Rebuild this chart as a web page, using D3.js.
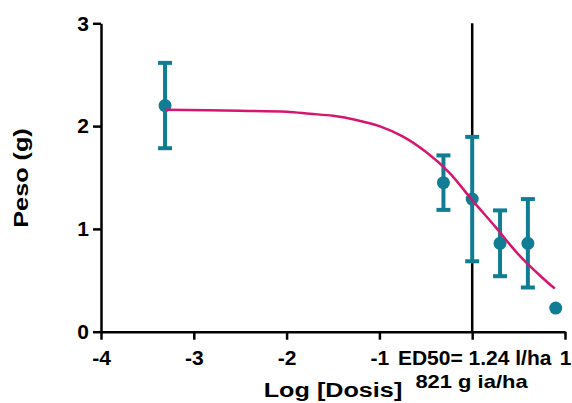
<html>
<meta charset="utf-8" />
<head>
<style>
body { margin: 0; background: #fff; }
svg { display: block; }
svg text {
  font-family: "Liberation Sans", Arial, sans-serif;
  font-weight: bold;
  fill: black;
}
</style>
<script src="https://cdn.jsdelivr.net/npm/d3@7"></script>
</head>
<body>
<svg class="chart" width="572" height="403"></svg>
<script>
// measured data (log dose, mean weight, SEM)
var logDose = [-3.31, -0.31, 0, 0.30, 0.60, 0.90];
var peso = [2.20, 1.45, 1.29, 0.86, 0.86, 0.23];
var sem = [0.415, 0.265, 0.605, 0.32, 0.43, 0];

// fitted curve
var curveX = [-3.31, -2.5, -2.0, -1.75, -1.5, -1.25, -1.0, -0.75, -0.5, -0.25, 0, 0.25, 0.5, 0.75, 0.89];
var curveY = [2.16, 2.15, 2.14, 2.12, 2.10, 2.06, 2.00, 1.90, 1.75, 1.55, 1.28, 1.02, 0.75, 0.53, 0.42];

var xTicks = [-4, -3, -2, -1, 0, 1];
var yTicks = [0, 1, 2, 3];
var ed50Label = "ED50= 1.24 l/ha";
var ed50Sub = "821 g ia/ha";

var teal = "#107d94";
var magenta = "#d6156e";

var x = d3.scaleLinear().domain([-4, 1]).range([101, 565]);
var y = d3.scaleLinear().domain([0, 3]).range([331.7, 23.3]);

var svg = d3.select(".chart");

// vertical reference line at log dose 0
svg.append("line")
    .attr("x1", x(0)).attr("x2", x(0))
    .attr("y1", y(3)).attr("y2", y(0))
    .attr("stroke", "black")
    .attr("stroke-width", 2.5);

var yAxis = d3.axisLeft(y)
    .tickValues(yTicks)
    .tickFormat(d3.format("d"))
    .tickSize(8)
    .tickSizeOuter(0)
    .tickPadding(4);

var xAxis = d3.axisBottom(x)
    .tickValues(xTicks)
    .tickFormat(function(d){ return d === 0 ? ed50Label : d; })
    .tickSize(8)
    .tickSizeOuter(0)
    .tickPadding(10);

var gy = svg.append("g")
    .attr("transform", "translate(" + x(-4) + ",0)")
    .call(yAxis);

var gx = svg.append("g")
    .attr("transform", "translate(0," + y(0) + ")")
    .call(xAxis);

[gx, gy].forEach(function(g){
  g.select(".domain").attr("stroke", "black").attr("stroke-width", 2.5);
  g.selectAll(".tick line").attr("stroke", "black").attr("stroke-width", 2.5);
  g.selectAll(".tick text")
      .attr("font-size", 21)
      .attr("font-family", "Liberation Sans, Arial, sans-serif")
      .attr("font-weight", "bold")
      .attr("fill", "black");
});
gx.selectAll(".tick text")
    .filter(function(d){ return d === 0; })
    .attr("dx", 2);

// error bars
var pts = logDose.map(function(d, i){ return {x: d, y: peso[i], e: sem[i]}; });
var bars = svg.append("g").selectAll("g")
    .data(pts.filter(function(d){ return d.e > 0; }))
    .enter().append("g");

bars.append("line")
    .attr("x1", function(d){ return x(d.x); })
    .attr("x2", function(d){ return x(d.x); })
    .attr("y1", function(d){ return y(d.y + d.e); })
    .attr("y2", function(d){ return y(d.y - d.e); })
    .attr("stroke", teal).attr("stroke-width", 4);

[1, -1].forEach(function(s){
  bars.append("line")
      .attr("x1", function(d){ return x(d.x) - 7; })
      .attr("x2", function(d){ return x(d.x) + 7; })
      .attr("y1", function(d){ return y(d.y + s * d.e); })
      .attr("y2", function(d){ return y(d.y + s * d.e); })
      .attr("stroke", teal).attr("stroke-width", 4);
});

svg.append("g").selectAll("circle")
    .data(pts)
    .enter().append("circle")
    .attr("cx", function(d){ return x(d.x); })
    .attr("cy", function(d){ return y(d.y); })
    .attr("r", 6.5)
    .attr("fill", teal);

// dose-response curve
var line = d3.line()
    .x(function(d){ return x(d[0]); })
    .y(function(d){ return y(d[1]); })
    .curve(d3.curveCatmullRom);

svg.append("path")
    .datum(d3.zip(curveX, curveY))
    .attr("d", line)
    .attr("fill", "none")
    .attr("stroke", magenta)
    .attr("stroke-width", 2.5);

// titles (glyphs in the original are a little wider than Arial)
svg.append("text")
    .attr("transform", "translate(333,397) scale(1.2,1)")
    .attr("text-anchor", "middle")
    .attr("font-size", 21)
    .text("Log [Dosis]");

svg.append("text")
    .attr("transform", "translate(471.5,388) scale(1.22,1)")
    .attr("text-anchor", "middle")
    .attr("font-size", 18)
    .text(ed50Sub);

svg.append("text")
    .attr("transform", "translate(28,178) rotate(-90) scale(1.2,1)")
    .attr("text-anchor", "middle")
    .attr("font-size", 21)
    .text("Peso (g)");
</script>
</body>
</html>
